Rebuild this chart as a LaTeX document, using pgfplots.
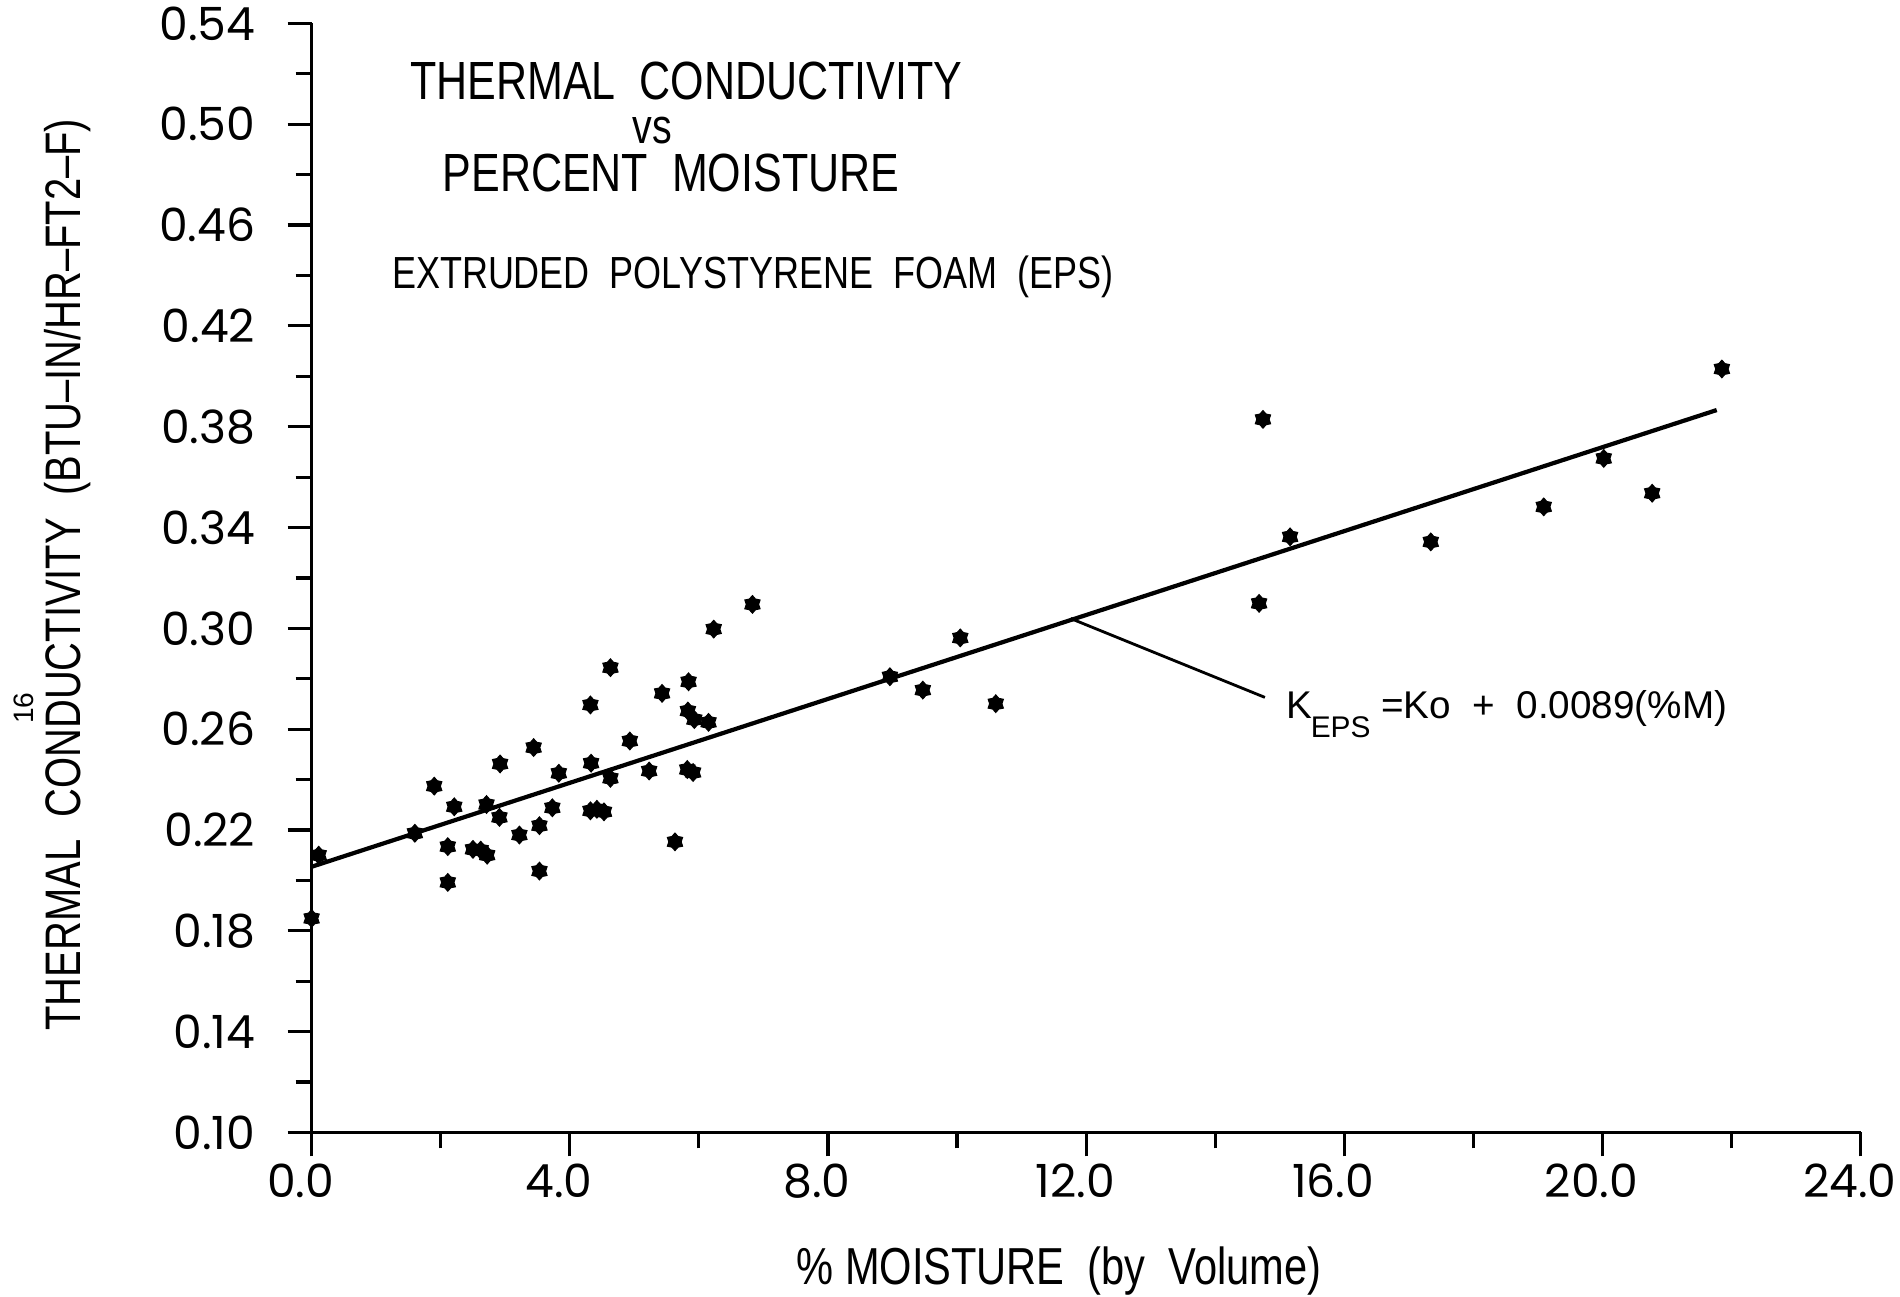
\documentclass[border=0pt]{standalone}
\usepackage{fontspec}
\setmainfont{Liberation Sans}
\newfontfamily\narrowfont[FakeStretch=0.8]{Liberation Sans}
\newfontfamily\tickfont{Poppins}
\usepackage{pgfplots}
\usepackage{pgfplotstable}
\pgfplotsset{compat=1.18}

% filled six-pointed star, like the plotter's marker
\pgfdeclareplotmark{sixstar}{%
  \pgfpathmoveto{\pgfqpoint{0pt}{\pgfplotmarksize}}%
  \pgfpathlineto{\pgfqpoint{0.35\pgfplotmarksize}{0.606\pgfplotmarksize}}%
  \pgfpathlineto{\pgfqpoint{0.866\pgfplotmarksize}{0.5\pgfplotmarksize}}%
  \pgfpathlineto{\pgfqpoint{0.7\pgfplotmarksize}{0pt}}%
  \pgfpathlineto{\pgfqpoint{0.866\pgfplotmarksize}{-0.5\pgfplotmarksize}}%
  \pgfpathlineto{\pgfqpoint{0.35\pgfplotmarksize}{-0.606\pgfplotmarksize}}%
  \pgfpathlineto{\pgfqpoint{0pt}{-\pgfplotmarksize}}%
  \pgfpathlineto{\pgfqpoint{-0.35\pgfplotmarksize}{-0.606\pgfplotmarksize}}%
  \pgfpathlineto{\pgfqpoint{-0.866\pgfplotmarksize}{-0.5\pgfplotmarksize}}%
  \pgfpathlineto{\pgfqpoint{-0.7\pgfplotmarksize}{0pt}}%
  \pgfpathlineto{\pgfqpoint{-0.866\pgfplotmarksize}{0.5\pgfplotmarksize}}%
  \pgfpathlineto{\pgfqpoint{-0.35\pgfplotmarksize}{0.606\pgfplotmarksize}}%
  \pgfpathclose
  \pgfusepathqfillstroke
}

% measured points: % moisture (by volume), k
\pgfplotstableread{
x y
0.00 0.1849
0.11 0.2100
1.60 0.2187
1.90 0.2374
2.11 0.2134
2.11 0.1992
2.21 0.2292
2.50 0.2123
2.62 0.2120
2.72 0.2100
2.71 0.2301
2.92 0.2462
2.91 0.2250
3.22 0.2180
3.44 0.2527
3.53 0.2037
3.53 0.2217
3.73 0.2288
3.83 0.2425
4.32 0.2696
4.33 0.2465
4.32 0.2276
4.42 0.2282
4.53 0.2272
4.63 0.2844
4.63 0.2405
4.93 0.2553
5.23 0.2434
5.43 0.2742
5.63 0.2153
5.84 0.2788
5.83 0.2672
5.93 0.2638
5.82 0.2440
5.91 0.2428
6.15 0.2627
6.23 0.2997
6.83 0.3095
8.96 0.2808
9.47 0.2755
10.05 0.2962
10.60 0.2701
14.74 0.3829
15.16 0.3363
14.68 0.3099
17.34 0.3343
19.09 0.3482
20.02 0.3674
20.77 0.3536
21.85 0.4029
}\kdata

% fitted line
\pgfplotstableread{
x y
0 0.2054
21.77 0.3866
}\fitline

\begin{document}
\begin{tikzpicture}
\begin{axis}[
    scale only axis,
    width=15.49cm,
    height=11.09cm,
    xmin=0, xmax=24,
    ymin=0.10, ymax=0.54,
    axis x line*=bottom,
    axis y line*=left,
    axis line style={line width=0.9pt},
    xtick={0,4,8,12,16,20,24},
    ytick={0.10,0.14,0.18,0.22,0.26,0.30,0.34,0.38,0.42,0.46,0.50,0.54},
    minor x tick num=1,
    minor y tick num=1,
    tick align=outside,
    major tick length=0.24cm,
    minor tick length=0.16cm,
    tick style={line width=0.9pt, black},
    xticklabel style={yshift=0.05cm, xshift=-0.11cm, /pgf/number format/.cd, fixed, fixed zerofill, precision=1},
    yticklabel style={xshift=-0.2cm, /pgf/number format/.cd, fixed, fixed zerofill, precision=2},
    /pgf/number format/assume math mode=true,
    ticklabel style={font=\tickfont\fontsize{13}{14}\selectfont},
    xlabel={\% MOISTURE\ \ (by\ \ Volume)},
    xlabel style={font=\narrowfont\fontsize{14.8}{16}\selectfont, at={(rel axis cs:0.4825,-0.137)}, anchor=base},
    ylabel={THERMAL\ \ CONDUCTIVITY\ \ (BTU\textendash IN/HR\textendash FT2\textendash F)},
    ylabel style={font=\narrowfont\fontsize{14.2}{16}\selectfont, at={(rel axis cs:-0.1576,0.503)}, anchor=center},
    clip=false,
]
% corners of the picture's frame, in the reference's proportions
\coordinate (frameSW) at (axis cs:-4.828,0.0349);
\coordinate (frameNE) at (axis cs:24.61,0.5493);

\addplot[only marks, mark=sixstar, mark size=2.5pt,
         mark options={fill=black, draw=black, line width=0.3pt}] table {\kdata};
\addplot[black, line width=1.2pt] table {\fitline};
\addplot[black, line width=0.8pt] coordinates {(11.76,0.3039) (14.77,0.2726)};

\node[anchor=base west, font=\narrowfont\fontsize{15.3}{16}\selectfont, inner sep=0pt]
  at (axis cs:1.517,0.5099) {THERMAL\ \ CONDUCTIVITY};
\node[anchor=base west, font=\narrowfont\fontsize{14}{15}\selectfont, inner sep=0pt]
  at (axis cs:4.96,0.4922) {vs};
\node[anchor=base west, font=\narrowfont\fontsize{15.3}{16}\selectfont, inner sep=0pt]
  at (axis cs:2.02,0.4733) {PERCENT\ \ MOISTURE};
\node[anchor=base west, font=\narrowfont\fontsize{12.8}{14}\selectfont, inner sep=0pt]
  at (axis cs:1.235,0.4349) {EXTRUDED\ \ POLYSTYRENE\ \ FOAM\ \ (EPS)};
\node[anchor=base west, font=\fontsize{11}{12}\selectfont, inner sep=0pt]
  at (axis cs:15.10,0.2642)
  {K\kern-0.05em\raisebox{-0.95ex}{\fontsize{8.5}{9}\selectfont EPS}\ =Ko\ \ +\ \ 0.0089(\%M)};
\node[rotate=90, font=\fontsize{8}{9}\selectfont, inner sep=0pt]
  at (rel axis cs:-0.1858,0.3827) {16};
\end{axis}
\pgfresetboundingbox
\path (frameSW) rectangle (frameNE);
\end{tikzpicture}
\end{document}
